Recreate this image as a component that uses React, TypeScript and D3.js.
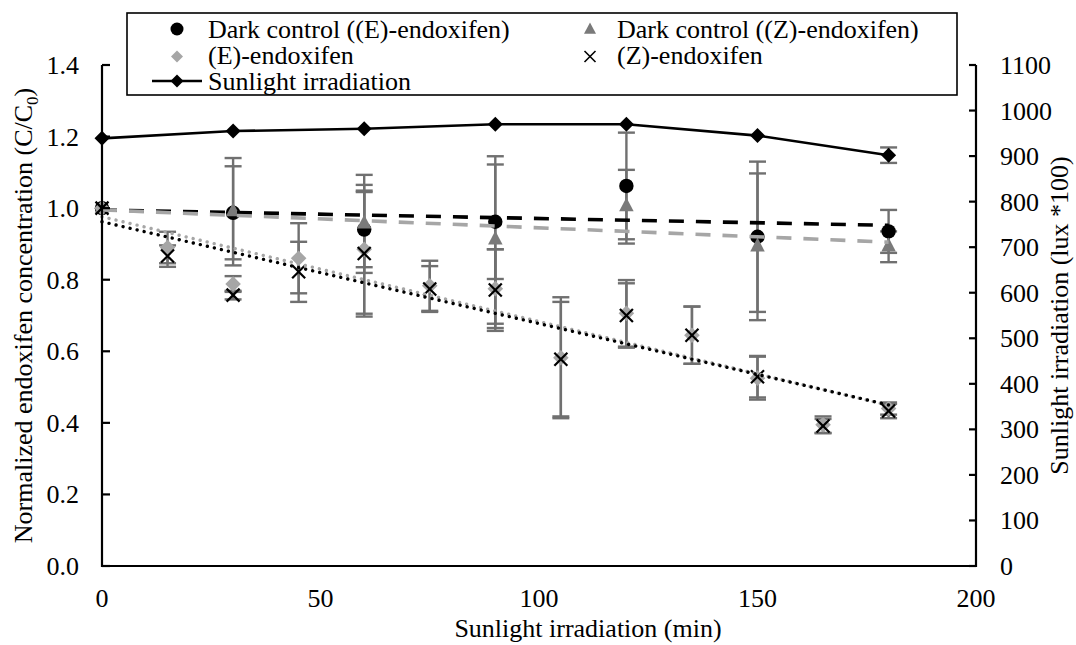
import React from "react";
import * as d3 from "d3";

// Sampling times (min)
const lightTimes = [0, 15, 30, 45, 60, 75, 90, 105, 120, 135, 150, 165, 180];
const darkTimes = [0, 30, 60, 90, 120, 150, 180];

// Dark controls (C/C0) with standard deviations
const darkE = [1.0, 0.987, 0.94, 0.962, 1.062, 0.92, 0.935];
const darkEErr = [0, 0.13, 0.105, 0.16, 0.149, 0.21, 0.06];
const darkZ = [1.0, 0.99, 0.956, 0.911, 1.004, 0.892, 0.892];
const darkZErr = [0, 0.15, 0.137, 0.234, 0.103, 0.205, 0.043];

// Irradiated samples (C/C0) with standard deviations
const lightE = [1.0, 0.89, 0.788, 0.86, 0.885, 0.783, 0.775, 0.582, 0.706, 0.645, 0.525, 0.395, 0.44];
const lightEErr = [0, 0.044, 0.022, 0.098, 0.18, 0.07, 0.11, 0.169, 0.093, 0.08, 0.06, 0.023, 0.017];
const lightZ = [1.0, 0.866, 0.757, 0.822, 0.873, 0.774, 0.771, 0.578, 0.7, 0.645, 0.529, 0.391, 0.433];
const lightZErr = [0, 0.03, 0.012, 0.084, 0.176, 0.064, 0.114, 0.16, 0.09, 0.08, 0.058, 0.02, 0.02];

// Sunlight intensity (lux *100)
const sunTimes = [0, 30, 60, 90, 120, 150, 180];
const sunLux = [939, 955, 960, 970, 970, 945, 902];
const sunErr = [0, 0, 0, 0, 0, 0, 17];

// Linear trend lines: [start, end] at t = 0 and t = 180
const trendTimes = [0, 180];
const trendDarkE = [0.995, 0.952];
const trendDarkZ = [0.995, 0.905];
const trendLightE = [0.976, 0.449];
const trendLightZ = [0.962, 0.45];

// Axis ticks
const xTicks = [0, 50, 100, 150, 200];
const yLeftTicks = [0, 0.2, 0.4, 0.6, 0.8, 1.0, 1.2, 1.4];
const yRightTicks = [0, 100, 200, 300, 400, 500, 600, 700, 800, 900, 1000, 1100];

const FONT = "'Liberation Serif', 'Times New Roman', serif";
const FS = 26;
const ERR_COLOR = "#707070";
const TRI_COLOR = "#7a7a7a";
const LIGHT_GREY = "#a6a6a6";

const W = 1076;
const H = 645;

const x = d3.scaleLinear().domain([0, 200]).range([102, 976]);
const yL = d3.scaleLinear().domain([0, 1.4]).range([566, 65]);
const yR = d3.scaleLinear().domain([0, 1100]).range([566, 65]);

const diamondPath = (cx: number, cy: number, r: number) =>
  `M${cx},${cy - r}L${cx + r},${cy}L${cx},${cy + r}L${cx - r},${cy}Z`;

const triPath = (cx: number, cy: number, w: number) => {
  const h = w * 0.95;
  return `M${cx},${cy - (2 * h) / 3}L${cx + w / 2},${cy + h / 3}L${cx - w / 2},${cy + h / 3}Z`;
};

function XMark({ cx, cy, r, sw }: { cx: number; cy: number; r: number; sw: number }) {
  return (
    <g stroke="#000" strokeWidth={sw}>
      <line x1={cx - r} y1={cy - r} x2={cx + r} y2={cy + r} />
      <line x1={cx - r} y1={cy + r} x2={cx + r} y2={cy - r} />
    </g>
  );
}

function ErrorBars({
  ts,
  vs,
  es,
  y,
}: {
  ts: number[];
  vs: number[];
  es: number[];
  y: d3.ScaleLinear<number, number>;
}) {
  const cap = 8.5;
  return (
    <g stroke={ERR_COLOR} strokeWidth={2.4}>
      {ts.map((t, i) => {
        if (!es[i]) return null;
        const cx = x(t);
        const y1 = y(vs[i] + es[i]);
        const y2 = y(vs[i] - es[i]);
        return (
          <g key={i}>
            <line x1={cx} x2={cx} y1={y1} y2={y2} />
            <line x1={cx - cap} x2={cx + cap} y1={y1} y2={y1} />
            <line x1={cx - cap} x2={cx + cap} y1={y2} y2={y2} />
          </g>
        );
      })}
    </g>
  );
}

function Trend({ vs, color, dotted }: { vs: number[]; color: string; dotted: boolean }) {
  return (
    <line
      x1={x(trendTimes[0])}
      y1={yL(vs[0])}
      x2={x(trendTimes[1])}
      y2={yL(vs[1])}
      stroke={color}
      strokeWidth={dotted ? 3.4 : 3.6}
      strokeLinecap={dotted ? "round" : "butt"}
      strokeDasharray={dotted ? "0.01 7.2" : "15 12"}
    />
  );
}

export default function App() {
  const sunLine = d3
    .line<number>()
    .x((_, i) => x(sunTimes[i]))
    .y((d) => yR(d))(sunLux) as string;

  const fmtL = d3.format(".1f");

  return (
    <svg
      width={W}
      height={H}
      viewBox={`0 0 ${W} ${H}`}
      style={{ position: "absolute", left: 0, top: 0, background: "#fff", fontFamily: FONT, fontSize: FS }}
    >
      <rect width={W} height={H} fill="#fff" />

      {/* error bars */}
      <ErrorBars ts={darkTimes} vs={darkE} es={darkEErr} y={yL} />
      <ErrorBars ts={darkTimes} vs={darkZ} es={darkZErr} y={yL} />
      <ErrorBars ts={lightTimes} vs={lightE} es={lightEErr} y={yL} />
      <ErrorBars ts={lightTimes} vs={lightZ} es={lightZErr} y={yL} />

      {/* dark control (E) */}
      {darkTimes.map((t, i) => (
        <circle key={`de${i}`} cx={x(t)} cy={yL(darkE[i])} r={7.2} fill="#000" />
      ))}
      {/* dark control (Z) */}
      {darkTimes.map((t, i) => (
        <path key={`dz${i}`} d={triPath(x(t), yL(darkZ[i]), 14.5)} fill={TRI_COLOR} />
      ))}
      {/* (E)-endoxifen */}
      {lightTimes.map((t, i) => (
        <path key={`le${i}`} d={diamondPath(x(t), yL(lightE[i]), 7.8)} fill={LIGHT_GREY} />
      ))}
      {/* (Z)-endoxifen */}
      {lightTimes.map((t, i) => (
        <XMark key={`lz${i}`} cx={x(t)} cy={yL(lightZ[i])} r={6.5} sw={2.2} />
      ))}

      {/* trend lines */}
      <Trend vs={trendDarkE} color="#000" dotted={false} />
      <Trend vs={trendDarkZ} color={LIGHT_GREY} dotted={false} />
      <Trend vs={trendLightE} color={LIGHT_GREY} dotted={true} />
      <Trend vs={trendLightZ} color="#000" dotted={true} />

      {/* sunlight intensity on the secondary axis */}
      <ErrorBars ts={sunTimes} vs={sunLux} es={sunErr} y={yR} />
      <path d={sunLine} fill="none" stroke="#000" strokeWidth={2.6} />
      {sunTimes.map((t, i) => (
        <path key={`s${i}`} d={diamondPath(x(t), yR(sunLux[i]), 7.5)} fill="#000" />
      ))}

      {/* axes */}
      <g stroke="#000" strokeWidth={2.2} fill="none">
        <line x1={x(0)} x2={x(0)} y1={yL(1.4)} y2={yL(0) + 1} />
        <line x1={x(0)} x2={x(200)} y1={yL(0)} y2={yL(0)} />
        <line x1={x(200)} x2={x(200)} y1={yR(1100)} y2={yR(0) + 1} />
        {yLeftTicks.map((v) => (
          <line key={`lt${v}`} x1={x(0)} x2={x(0) + 8} y1={yL(v)} y2={yL(v)} />
        ))}
        {yRightTicks.map((v) => (
          <line key={`rt${v}`} x1={x(200) - 7} x2={x(200)} y1={yR(v)} y2={yR(v)} />
        ))}
      </g>

      {/* tick labels */}
      <g fill="#000">
        {yLeftTicks.map((v) => (
          <text key={`ll${v}`} x={79} y={yL(v) + 9} textAnchor="end">
            {fmtL(v)}
          </text>
        ))}
        {yRightTicks.map((v) => (
          <text key={`rl${v}`} x={1000} y={yR(v) + 9} textAnchor="start">
            {v}
          </text>
        ))}
        {xTicks.map((v) => (
          <text key={`xl${v}`} x={x(v)} y={607} textAnchor="middle">
            {v}
          </text>
        ))}
      </g>

      {/* axis titles */}
      <text x={588} y={637} textAnchor="middle">
        Sunlight irradiation (min)
      </text>
      <text transform={`translate(32,${(yL(0) + yL(1.4)) / 2}) rotate(-90)`} textAnchor="middle">
        Normalized endoxifen concentration (C/C
        <tspan fontSize={17} dy={6}>
          0
        </tspan>
        <tspan dy={-6}>)</tspan>
      </text>
      <text transform={`translate(1068,${(yR(0) + yR(1100)) / 2}) rotate(-90)`} textAnchor="middle">
        Sunlight irradiation (lux *100)
      </text>

      {/* legend */}
      <g>
        <rect x={127} y={13} width={830} height={82} fill="#fff" stroke="#000" strokeWidth={1.6} />
        <circle cx={177} cy={29} r={6.5} fill="#000" />
        <text x={208} y={38}>
          Dark control ((E)-endoxifen)
        </text>
        <path d={triPath(590, 30, 12)} fill={TRI_COLOR} />
        <text x={617} y={38}>
          Dark control ((Z)-endoxifen)
        </text>
        <path d={diamondPath(177, 56.5, 6)} fill={LIGHT_GREY} />
        <text x={208} y={64}>
          (E)-endoxifen
        </text>
        <XMark cx={590} cy={56.5} r={5.5} sw={1.6} />
        <text x={617} y={64}>
          (Z)-endoxifen
        </text>
        <line x1={152} x2={202} y1={81} y2={81} stroke="#000" strokeWidth={2.4} />
        <path d={diamondPath(177, 81, 6.5)} fill="#000" />
        <text x={208} y={90}>
          Sunlight irradiation
        </text>
      </g>
    </svg>
  );
}
